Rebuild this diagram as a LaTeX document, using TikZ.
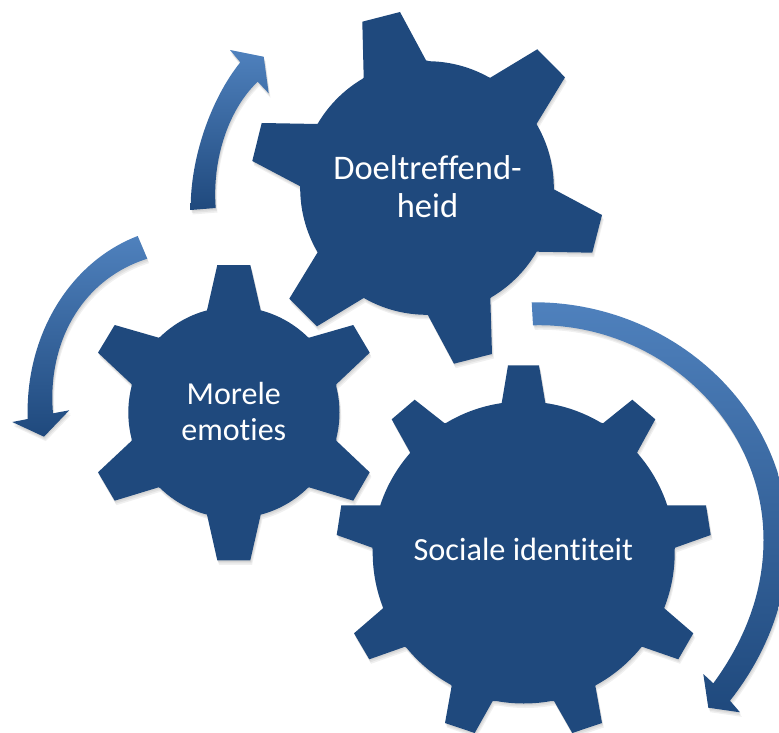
\documentclass[tikz,border=0pt]{standalone}
\usepackage{fontspec}
\setmainfont[Ligatures=NoCommon]{Carlito}
\definecolor{gearblue}{HTML}{1F497D}
\definecolor{arrowtop}{HTML}{4F81BD}
\tikzset{
  gearfill/.style={fill=gearblue,draw=none},
  arrowfill/.style={top color=arrowtop,bottom color=gearblue,draw=none},
  softshadow/.style={fill=black,opacity=0.06,draw=none},
  gearlabel/.style={text=white,align=center,inner sep=0pt}
}
\newcommand\softlayers[1]{%
  \begin{scope}[shift={(0.6,1.5)}]\fill[softshadow] #1;\end{scope}
  \begin{scope}[shift={(1.2,3)}]\fill[softshadow] #1;\end{scope}
  \begin{scope}[shift={(1.8,4.5)}]\fill[softshadow] #1;\end{scope}
}
\newcommand\gearpaint[1]{\softlayers{#1}\fill[gearfill] #1;}
\newcommand\arrowpaint[1]{\softlayers{#1}\path[arrowfill] #1;}
\begin{document}
\begin{tikzpicture}[x=1pt,y=-1pt]
\useasboundingbox (0,0) rectangle (779,733);
\clip (0,0) rectangle (779,733);
% upper arrow
\arrowpaint{(190.7,210) .. controls (190,160) and (210,100) .. (240.3,62.3) -- (230,50) -- (263.7,56.7) -- (268.7,93.3) -- (257.7,81.7) .. controls (228,110) and (212,160) .. (215.7,208) -- cycle}
% left arrow
\arrowpaint{(137.7,236) .. controls (70,262) and (25,335) .. (27.7,419) -- (12.3,422) -- (44,436.7) -- (69.3,410.3) -- (53,413.3) .. controls (47,345) and (80,280) .. (147.3,258.7) -- cycle}
% right arrow
\arrowpaint{(531.7,302.3) .. controls (668,301) and (788,405) .. (788,540) .. controls (788,600) and (766,655) .. (730,700.7) -- (740,712.3) -- (708.3,707.7) -- (703.3,674) -- (713.3,683.3) .. controls (745,640) and (763.5,592) .. (763.5,540) .. controls (763.5,418) and (655,322) .. (533,325.3) -- cycle}
% gears
\gearpaint{(362.3,21.7) -- (400,12) -- (426,60.3) -- (490.3,77.7) -- (537.3,49.3) -- (565,77.3) -- (536.3,124.3) -- (553.3,189) -- (602,215) -- (592.3,252.7) -- (536.3,251.7) -- (490.3,298.3) -- (492,354) -- (454,363.7) -- (427.7,314.7) -- (363.7,298) -- (317,326.3) -- (289.3,298.7) -- (318,251.7) -- (301,186.7) -- (252.3,161) -- (261.7,123) -- (318,124) -- (363.7,77.7) -- cycle (427,188) circle[radius=126.8]}
\gearpaint{(217.3,265) -- (250.3,265) -- (260.7,310.3) -- (309,337.7) -- (353.3,325) -- (369.7,352.7) -- (336.3,384.3) -- (336.3,440.7) -- (369.7,472.3) -- (353.3,500.7) -- (309,487.3) -- (260.7,514.7) -- (250.3,560.3) -- (217.3,560.3) -- (207,514.7) -- (158.7,487.3) -- (114.7,500.7) -- (98,472.3) -- (131.7,440.7) -- (131.7,384.3) -- (98,352.7) -- (114.7,325) -- (158.7,337.7) -- (207,310.3) -- cycle (233.9,412.5) circle[radius=105.6]}
\gearpaint{(508,365.3) -- (539,365.3) -- (545.3,403) -- (603,423.3) -- (632.3,399.7) -- (655.3,419.3) -- (637,452.7) -- (667,505.3) -- (706,505.3) -- (710.7,535) -- (675,547.7) -- (664.3,608.3) -- (693.3,633.3) -- (678.3,659.3) -- (642,646.7) -- (595.3,685.7) -- (602,723) -- (572.3,733) -- (554,701) -- (492.7,701) -- (474.7,733) -- (445,723) -- (451.7,685.7) -- (405,646.7) -- (369.3,659.3) -- (354,633.3) -- (383,608.3) -- (372.3,547.7) -- (336.7,535) -- (341.3,505.3) -- (380.3,505.3) -- (410.3,452.7) -- (391.7,419.3) -- (414.7,399.7) -- (444.7,423.3) -- (501.7,403) -- cycle (523.7,552.5) circle[radius=151]}
% labels
\node[gearlabel,font=\fontsize{34.5}{37.7}\selectfont] (doel) at (427.5,186.5) {Doeltreffend-\\heid};
\node[gearlabel,font=\fontsize{32}{36}\selectfont] (morele) at (233.8,412) {Morele\\emoties};
\node[gearlabel,font=\fontsize{32.3}{36}\selectfont] (sociale) at (523.3,549) {Sociale identiteit};
\end{tikzpicture}
\end{document}
